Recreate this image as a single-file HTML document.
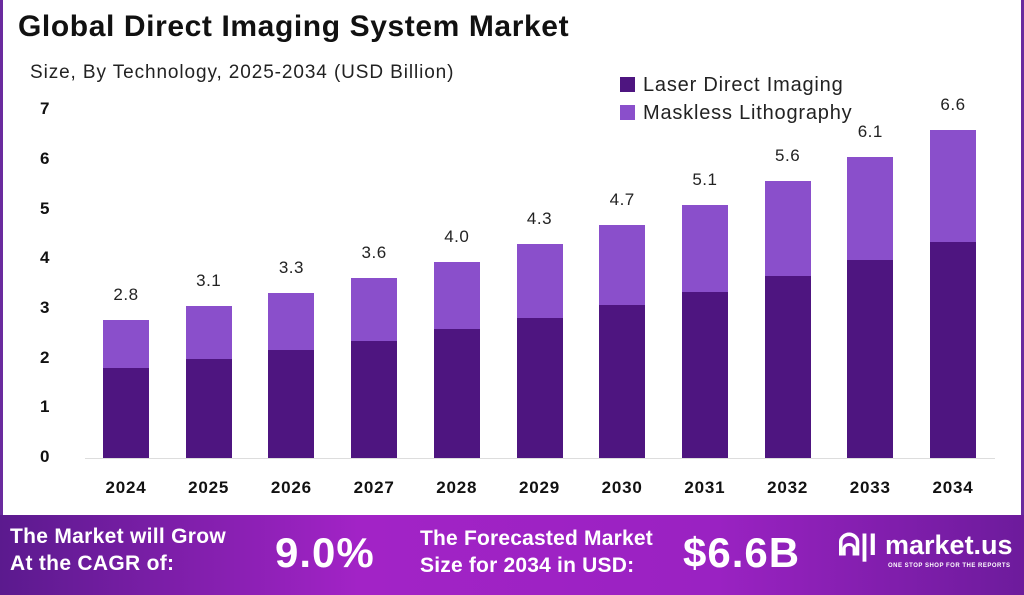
<!DOCTYPE html>
<html><head><style>
body{margin:0;width:1024px;height:595px;overflow:hidden;background:#fff;font-family:"Liberation Sans",sans-serif;position:relative}
.frame{position:absolute;left:0;top:0;width:1024px;height:515px;box-sizing:border-box;border-left:3px solid #6a2a9e;border-right:3px solid #6a2a9e}
.title{position:absolute;left:18px;top:10px;font-size:30px;font-weight:bold;color:#111;letter-spacing:0.6px}
.sub{position:absolute;left:30px;top:62px;font-size:19px;color:#222;letter-spacing:0.9px}
.yl{position:absolute;left:40px;width:30px;font-size:17px;font-weight:bold;color:#111}
.xl{position:absolute;top:478px;width:80px;text-align:center;font-size:17px;font-weight:bold;color:#111;letter-spacing:0.8px}
.bar{position:absolute;width:46px}
.d{background:#4e1580}.l{background:#8a4fcb}
.v{position:absolute;width:60px;text-align:center;font-size:17px;color:#222;letter-spacing:0.5px}
.leg{position:absolute;left:620px;font-size:20px;color:#222;letter-spacing:0.8px}
.leg span{display:inline-block;width:15px;height:15px;margin-right:8px;vertical-align:-1px}
.ban{position:absolute;left:0;top:515px;width:1024px;height:80px;background:linear-gradient(90deg,#5b1a8e 0%,#a223c6 35%,#9a22c2 70%,#6d1b9c 100%);color:#fff;font-weight:bold}
</style></head><body>
<div class="frame"></div>
<div class="title">Global Direct Imaging System Market</div>
<div class="sub">Size, By Technology, 2025-2034 (USD Billion)</div>
<div class="leg" style="top:74px"><span style="background:#4e1580"></span>Laser Direct Imaging</div>
<div class="leg" style="top:102px"><span style="background:#8a4fcb"></span>Maskless Lithography</div>
<div class="yl" style="top:447px">0</div>
<div class="yl" style="top:397px">1</div>
<div class="yl" style="top:348px">2</div>
<div class="yl" style="top:298px">3</div>
<div class="yl" style="top:248px">4</div>
<div class="yl" style="top:199px">5</div>
<div class="yl" style="top:149px">6</div>
<div class="yl" style="top:99px">7</div>
<div style="position:absolute;left:85px;top:458px;width:910px;height:1px;background:#ddd"></div>
<div id="bars"></div>
<script>
var yrs=[2024,2025,2026,2027,2028,2029,2030,2031,2032,2033,2034];
var dk=[368,359,350,341,329,318,305,292,276,260,242];
var tt=[320,306,293,278,262,244,225,205,181,157,130];
var lb=["2.8","3.1","3.3","3.6","4.0","4.3","4.7","5.1","5.6","6.1","6.6"];
var h="";
for(var i=0;i<11;i++){var c=126+i*82.7;var x=c-23;
h+='<div class="bar l" style="left:'+x+'px;top:'+tt[i]+'px;height:'+(dk[i]-tt[i])+'px"></div>';
h+='<div class="bar d" style="left:'+x+'px;top:'+dk[i]+'px;height:'+(458-dk[i])+'px"></div>';
h+='<div class="v" style="left:'+(c-30)+'px;top:'+(tt[i]-35)+'px">'+lb[i]+'</div>';
h+='<div class="xl" style="left:'+(c-40)+'px">'+yrs[i]+'</div>';}
document.getElementById("bars").innerHTML=h;
</script>
<div class="ban">
<div style="position:absolute;left:10px;top:8px;font-size:21px;line-height:27px;letter-spacing:0.3px">The Market will Grow<br>At the CAGR of:</div>
<div style="position:absolute;left:275px;top:14px;font-size:42px;letter-spacing:1px">9.0%</div>
<div style="position:absolute;left:420px;top:10px;font-size:21px;line-height:27px;letter-spacing:0.2px">The Forecasted Market<br>Size for 2034 in USD:</div>
<div style="position:absolute;left:683px;top:14px;font-size:42px;letter-spacing:1px">$6.6B</div>
<div style="position:absolute;left:838px;top:14px;font-size:30px;font-weight:bold">ᕱ|l</div>
<div style="position:absolute;left:885px;top:15px;font-size:27px">market.us</div>
<div style="position:absolute;left:888px;top:48px;font-size:6px;letter-spacing:0.5px">ONE STOP SHOP FOR THE REPORTS</div>
</div>
</body></html>
